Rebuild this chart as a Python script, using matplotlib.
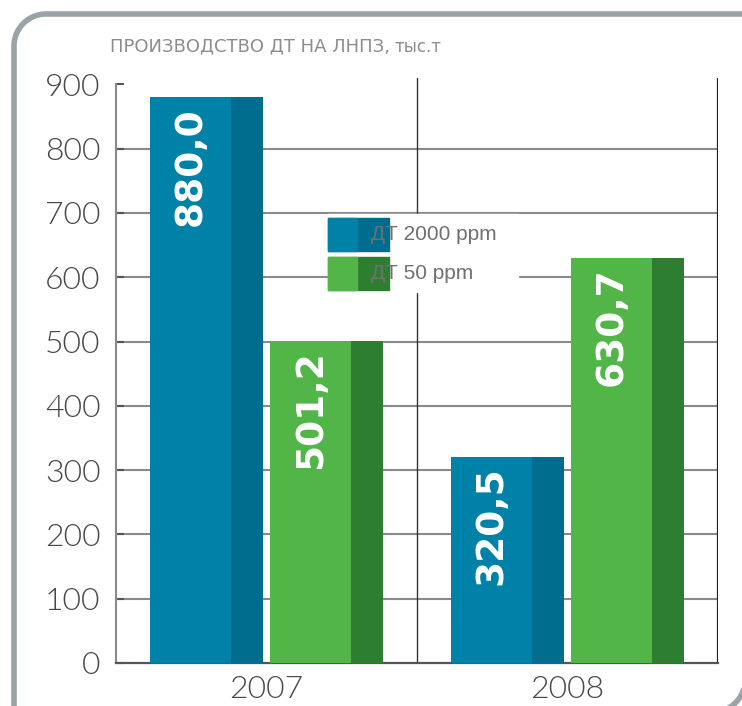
import matplotlib
matplotlib.use("Agg")
import matplotlib.pyplot as plt
from matplotlib.patches import Rectangle
from matplotlib.lines import Line2D
import numpy as np

# данные
years = ["2007", "2008"]
dt2000 = [880.0, 320.5]
dt50 = [501.2, 630.7]
labels2000 = ["880,0", "320,5"]
labels50 = ["501,2", "630,7"]
series_names = ["ДТ 2000 ppm", "ДТ 50 ppm"]
yticks = [0, 100, 200, 300, 400, 500, 600, 700, 800, 900]

blue, blue_dk = "#0082a8", "#006d8e"
green, green_dk = "#52b548", "#2d7e31"

W, H = 742, 706
fig = plt.figure(figsize=(W / 100, H / 100), dpi=100)
ax = fig.add_axes([116 / W, 1 - 663 / H, 602 / W, 585 / H])

x = np.arange(len(years)) + 0.5
bw = 0.375
dark_w = 0.106
off = 0.2


def draw_bars(xc, vals, texts, c1, c2):
    left = xc - bw / 2
    ax.bar(left, vals, width=bw, align="edge", color=c2, zorder=3)
    ax.bar(left, vals, width=bw - dark_w, align="edge", color=c1, zorder=3)
    for l, v, t in zip(left, vals, texts):
        ax.text(l + (bw - dark_w) / 2, v - 15, t, rotation=90, ha="center", va="top",
                color="white", fontsize=27, fontweight="bold",
                family="DejaVu Sans Condensed", zorder=4)


draw_bars(x - off, dt2000, labels2000, blue, blue_dk)
draw_bars(x + off, dt50, labels50, green, green_dk)

ax.set_xlim(0, 2)
ax.set_ylim(0, 910)
ax.set_yticks(yticks)
ax.set_yticklabels([str(t) for t in yticks])
ax.set_xticks(x)
ax.set_xticklabels(years)

for t in yticks[1:-1]:
    ax.axhline(t, color="#8a8a8a", lw=1.5, zorder=1)
ax.axvline(1, color="#333333", lw=1.0, zorder=1)
ax.axvline(2, color="#222222", lw=1.6, zorder=1)

for s in ["top", "right"]:
    ax.spines[s].set_visible(False)
ax.spines["left"].set_bounds(0, 900)
ax.spines["left"].set_color("#8a8a8a")
ax.spines["left"].set_linewidth(1.5)
ax.spines["bottom"].set_color("#555555")
ax.spines["bottom"].set_linewidth(1.6)

ax.tick_params(axis="y", direction="in", length=6, width=1.5, color="#555555",
               pad=11, labelsize=23, labelcolor="#484848")
ax.tick_params(axis="x", length=0, pad=9, labelsize=23, labelcolor="#484848")
for lab in ax.get_yticklabels() + ax.get_xticklabels():
    lab.set_family("Lato")
    lab.set_fontweight(300)

# легенда
def fx(px):
    return (px - 116) / 602


def fy(py):
    return (663 - py) / 585


ax.add_patch(Rectangle((fx(328), fy(292)), fx(518) - fx(328), fy(214) - fy(292),
                       transform=ax.transAxes, color="white", zorder=2))
leg = [(218, 251, blue, blue_dk), (257, 290, green, green_dk)]
for (top, bot, c1, c2), name in zip(leg, series_names):
    ax.add_patch(Rectangle((fx(328), fy(bot)), fx(389) - fx(328), fy(top) - fy(bot),
                           transform=ax.transAxes, color=c2, zorder=5))
    ax.add_patch(Rectangle((fx(328), fy(bot)), fx(357) - fx(328), fy(top) - fy(bot),
                           transform=ax.transAxes, color=c1, zorder=5))
    ax.text(fx(371), (fy(top) + fy(bot)) / 2, name, transform=ax.transAxes,
            ha="left", va="center", fontsize=15, color="#707070",
            family="Liberation Sans", zorder=6)

# заголовок
title_main = fig.text(110 / W, 1 - 46 / H, "ПРОИЗВОДСТВО ДТ НА ЛНПЗ,", ha="left",
                      va="center", fontsize=13, color="#8c8c8c",
                      family="DejaVu Sans Condensed")
fig.canvas.draw()
bb = title_main.get_window_extent()
fig.text(bb.x1 / W + 5 / W, 1 - 47 / H, "тыс.т", ha="left", va="center",
         fontsize=12, color="#8c8c8c", family="DejaVu Sans Condensed")

# рамка
fc = "#9aa3a8"
r = 32
t = np.linspace(np.pi, np.pi / 2, 30)
cx, cy = 14 + r, 14 + r
px = np.concatenate([[14], cx + r * np.cos(t), [760]])
py = np.concatenate([[720], cy - r * np.sin(t), [14]])
fig.add_artist(Line2D(px / W, 1 - py / H, color=fc, lw=4, transform=fig.transFigure,
                      solid_capstyle="butt"))
t2 = np.linspace(-np.pi / 2, 0, 30)
qx = 713 + r * np.cos(t2)
qy = 680 - r * np.sin(t2)
fig.add_artist(Line2D(qx / W, 1 - qy / H, color=fc, lw=4, transform=fig.transFigure))

fig.savefig("out.png", dpi=100)
